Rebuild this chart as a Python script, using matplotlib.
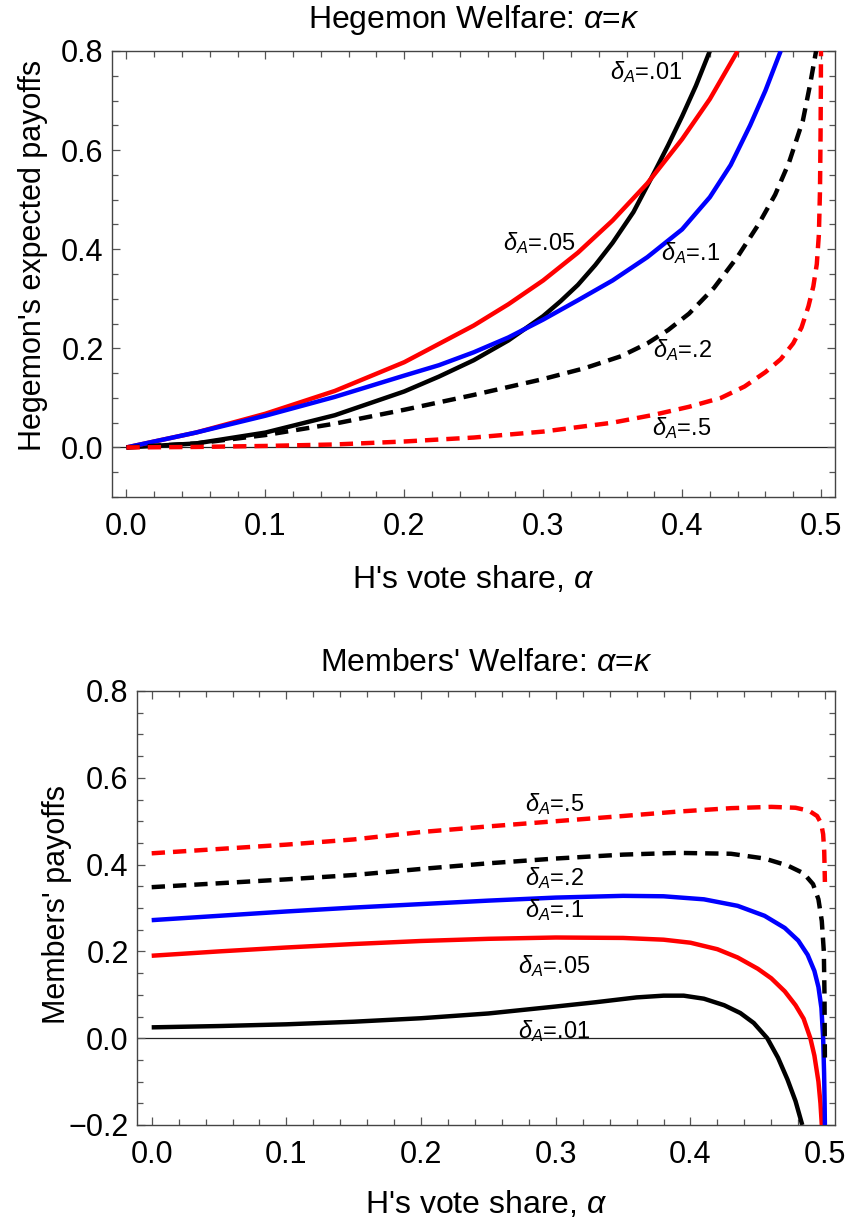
import matplotlib
matplotlib.use("Agg")
import matplotlib.pyplot as plt
from matplotlib.ticker import MultipleLocator, FuncFormatter

plt.rcParams['font.family'] = ['Liberation Sans', 'DejaVu Sans']
plt.rcParams['mathtext.fontset'] = 'custom'
plt.rcParams['mathtext.rm'] = 'Liberation Sans'
plt.rcParams['mathtext.it'] = 'Liberation Sans:italic'
plt.rcParams['mathtext.bf'] = 'Liberation Sans:bold'

# ---------------- data: Hegemon welfare (top) ----------------
hx_d01 = [0.0, 0.05, 0.10, 0.15, 0.20, 0.225, 0.25, 0.275, 0.30, 0.3125, 0.325, 0.3375, 0.35, 0.365, 0.38, 0.39, 0.40, 0.41, 0.42]
hy_d01 = [0.0, 0.008, 0.030, 0.065, 0.113, 0.143, 0.176, 0.216, 0.265, 0.295, 0.328, 0.368, 0.413, 0.475, 0.555, 0.610, 0.668, 0.730, 0.80]

hx_d05 = [0.0, 0.05, 0.10, 0.15, 0.20, 0.25, 0.275, 0.30, 0.325, 0.35, 0.375, 0.40, 0.42, 0.44]
hy_d05 = [0.0, 0.030, 0.068, 0.114, 0.172, 0.246, 0.289, 0.337, 0.393, 0.458, 0.533, 0.622, 0.703, 0.80]

hx_d1 = [0.0, 0.05, 0.10, 0.15, 0.20, 0.225, 0.25, 0.275, 0.30, 0.325, 0.35, 0.375, 0.40, 0.42, 0.435, 0.449, 0.46, 0.471]
hy_d1 = [0.0, 0.030, 0.064, 0.102, 0.145, 0.166, 0.192, 0.222, 0.258, 0.297, 0.337, 0.384, 0.440, 0.505, 0.570, 0.650, 0.720, 0.80]

hx_d2 = [0.0, 0.05, 0.10, 0.15, 0.20, 0.25, 0.30, 0.33, 0.356, 0.375, 0.39, 0.405, 0.423, 0.44, 0.455, 0.467, 0.477, 0.487, 0.492, 0.4965]
hy_d2 = [0.0, 0.008, 0.025, 0.048, 0.076, 0.106, 0.138, 0.160, 0.184, 0.210, 0.237, 0.270, 0.322, 0.385, 0.450, 0.510, 0.575, 0.660, 0.730, 0.80]

hx_d5 = [0.0, 0.05, 0.10, 0.15, 0.20, 0.25, 0.30, 0.35, 0.38, 0.405, 0.428, 0.445, 0.46, 0.471, 0.48, 0.486, 0.491, 0.4945, 0.497, 0.4985, 0.4993, 0.4997, 0.4999, 0.5]
hy_d5 = [0.0, 0.001, 0.003, 0.006, 0.012, 0.020, 0.032, 0.050, 0.066, 0.082, 0.100, 0.123, 0.152, 0.178, 0.210, 0.242, 0.285, 0.325, 0.370, 0.430, 0.520, 0.630, 0.720, 0.80]

# ---------------- data: Members' welfare (bottom) ----------------
mx_d01 = [0.0, 0.05, 0.10, 0.15, 0.20, 0.25, 0.30, 0.33, 0.36, 0.38, 0.395, 0.41, 0.425, 0.437, 0.447, 0.457, 0.465, 0.472, 0.478, 0.483]
my_d01 = [0.025, 0.028, 0.032, 0.038, 0.046, 0.057, 0.073, 0.083, 0.094, 0.098, 0.098, 0.091, 0.076, 0.058, 0.035, 0.0, -0.045, -0.095, -0.145, -0.2]

mx_d05 = [0.0, 0.05, 0.10, 0.15, 0.20, 0.25, 0.30, 0.35, 0.38, 0.40, 0.42, 0.435, 0.45, 0.46, 0.47, 0.478, 0.484, 0.489, 0.492, 0.495, 0.4965, 0.4975]
my_d05 = [0.190, 0.200, 0.209, 0.217, 0.224, 0.229, 0.232, 0.231, 0.227, 0.220, 0.205, 0.186, 0.160, 0.138, 0.108, 0.076, 0.045, 0.0, -0.04, -0.10, -0.15, -0.2]

mx_d1 = [0.0, 0.05, 0.10, 0.15, 0.20, 0.25, 0.30, 0.35, 0.38, 0.41, 0.435, 0.455, 0.47, 0.48, 0.487, 0.492, 0.495, 0.4972, 0.4985, 0.4992, 0.4996, 0.4998]
my_d1 = [0.272, 0.282, 0.292, 0.301, 0.309, 0.317, 0.324, 0.328, 0.327, 0.320, 0.305, 0.282, 0.254, 0.225, 0.192, 0.155, 0.118, 0.070, 0.0, -0.08, -0.15, -0.2]

mx_d2 = [0.0, 0.05, 0.10, 0.15, 0.20, 0.25, 0.30, 0.35, 0.39, 0.43, 0.455, 0.472, 0.484, 0.491, 0.495, 0.4975, 0.499, 0.4995, 0.4997, 0.4998]
my_d2 = [0.348, 0.357, 0.366, 0.376, 0.390, 0.403, 0.414, 0.423, 0.427, 0.425, 0.414, 0.398, 0.380, 0.355, 0.320, 0.270, 0.200, 0.100, 0.0, -0.05]

mx_d5 = [0.0, 0.05, 0.10, 0.15, 0.20, 0.25, 0.30, 0.35, 0.39, 0.43, 0.46, 0.478, 0.488, 0.494, 0.497, 0.4985, 0.4993, 0.4996, 0.4998]
my_d5 = [0.426, 0.436, 0.446, 0.458, 0.475, 0.488, 0.500, 0.512, 0.522, 0.530, 0.533, 0.531, 0.524, 0.512, 0.495, 0.470, 0.430, 0.390, 0.360]

labels = [r"$\delta_A$=.01", r"$\delta_A$=.05", r"$\delta_A$=.1", r"$\delta_A$=.2", r"$\delta_A$=.5"]
colors = ['black', '#ff0000', '#0000ff', 'black', '#ff0000']
styles = ['solid', 'solid', 'solid', 'dashed', 'dashed']

# label positions (data coords)
top_label_pos = [(0.374, 0.757), (0.297, 0.412), (0.406, 0.392), (0.400, 0.197), (0.400, 0.039)]
bot_label_pos = [(0.299, 0.016), (0.299, 0.166), (0.299, 0.295), (0.299, 0.369), (0.299, 0.539)]

W, H = 849, 1223
fig = plt.figure(figsize=(W / 100, H / 100), dpi=100)

def px_axes(l, t, r, b):
    return fig.add_axes([l / W, 1 - b / H, (r - l) / W, (b - t) / H])

ax1 = px_axes(112, 51, 835, 497)
ax2 = px_axes(137, 691, 835, 1125)

LW = 3.2
DASH = (3.0, 1.8)
TICK_FS = 22
LAB_FS = 17

fmt = FuncFormatter(lambda v, p: ("%.1f" % v).replace("-", "\u2212"))

def style_axes(ax, xlim, ylim, yticks):
    ax.set_xlim(*xlim)
    ax.set_ylim(*ylim)
    ax.set_xticks([0.0, 0.1, 0.2, 0.3, 0.4, 0.5])
    ax.xaxis.set_minor_locator(MultipleLocator(0.02))
    ax.set_yticks(yticks)
    ax.yaxis.set_minor_locator(MultipleLocator(0.05))
    ax.xaxis.set_major_formatter(fmt)
    ax.yaxis.set_major_formatter(fmt)
    ax.tick_params(which='both', direction='in', top=True, right=True,
                   color='#555555', width=0.9, labelsize=TICK_FS)
    ax.tick_params(which='major', length=6.0)
    ax.tick_params(which='minor', length=4.0)
    ax.tick_params(axis='x', which='major', pad=11)
    ax.tick_params(axis='y', which='major', pad=6)
    for s in ax.spines.values():
        s.set_color('#444444')
        s.set_linewidth(1.0)
    ax.axhline(0, color='#222222', lw=0.9, zorder=1)

style_axes(ax1, (-0.0104, 0.5101), (-0.1, 0.8), [0.0, 0.2, 0.4, 0.6, 0.8])
style_axes(ax2, (-0.0109, 0.5073), (-0.2, 0.8), [-0.2, 0.0, 0.2, 0.4, 0.6, 0.8])

top_series = [(hx_d01, hy_d01), (hx_d05, hy_d05), (hx_d1, hy_d1), (hx_d2, hy_d2), (hx_d5, hy_d5)]
bot_series = [(mx_d01, my_d01), (mx_d05, my_d05), (mx_d1, my_d1), (mx_d2, my_d2), (mx_d5, my_d5)]

for ax, series, lpos in [(ax1, top_series, top_label_pos), (ax2, bot_series, bot_label_pos)]:
    for i, (xs, ys) in enumerate(series):
        line, = ax.plot(xs, ys, color=colors[i], lw=LW, zorder=2 + i,
                        solid_capstyle='butt', dash_capstyle='butt',
                        solid_joinstyle='round')
        if styles[i] == 'dashed':
            line.set_dashes(DASH)
        ax.text(lpos[i][0], lpos[i][1], labels[i], fontsize=LAB_FS,
                ha='center', va='center', zorder=10)

def ftext(xp, yp, s, **kw):
    fig.text(xp / W, 1 - yp / H, s, **kw)

ftext(473.5, 28, r"Hegemon Welfare: $\alpha$=$\kappa$", fontsize=23, ha='center', va='baseline')
ftext(486, 671, r"Members' Welfare: $\alpha$=$\kappa$", fontsize=23, ha='center', va='baseline')
ftext(473.5, 588, r"H's vote share, $\alpha$", fontsize=23, ha='center', va='baseline')
ftext(486, 1213, r"H's vote share, $\alpha$", fontsize=23, ha='center', va='baseline')
ftext(33, 255, "Hegemon's expected payoffs", fontsize=22, ha='center', va='center', rotation=90)
ftext(57, 905, "Members' payoffs", fontsize=22, ha='center', va='center', rotation=90)

fig.savefig("out.png", dpi=100)
